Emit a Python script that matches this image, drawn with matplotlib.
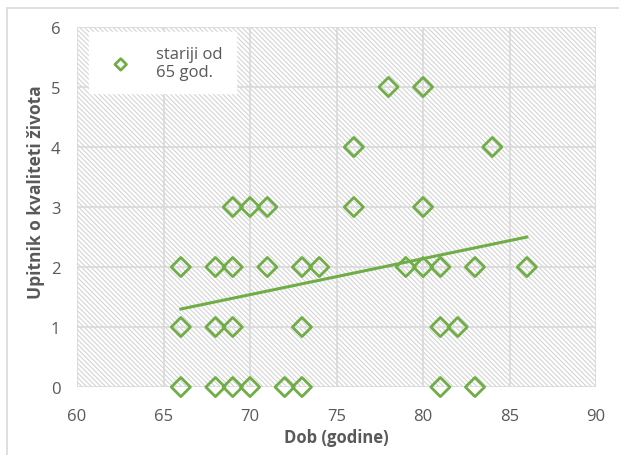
import matplotlib.pyplot as plt
from matplotlib.patches import Rectangle

# podaci procitani sa slike
dob = [66, 68, 69, 70, 72, 73, 81, 83,
       66, 68, 69, 73, 81, 82,
       66, 68, 69, 71, 73, 74, 79, 80, 81, 83, 86,
       69, 70, 71, 76, 80,
       76, 84,
       78, 80]
upitnik = [0, 0, 0, 0, 0, 0, 0, 0,
           1, 1, 1, 1, 1, 1,
           2, 2, 2, 2, 2, 2, 2, 2, 2, 2, 2,
           3, 3, 3, 3, 3,
           4, 4,
           5, 5]
# linearni trend (Excel), krajnje tocke procitane sa slike
trend_x = [66, 86]
trend_y = [1.3, 2.5]
serija = 'stariji od\n65 god.'
x_ticks = [60, 65, 70, 75, 80, 85, 90]
y_ticks = [0, 1, 2, 3, 4, 5, 6]

green = '#70AD47'
grey_txt = '#595959'
grid_c = '#D9D9D9'

plt.rcParams['font.family'] = ['Open Sans', 'DejaVu Sans']
plt.rcParams['hatch.linewidth'] = 0.8

fig = plt.figure(figsize=(6.19, 4.56), dpi=100)
ax = fig.add_axes([0.1244, 0.149, 0.8386, 0.7896])

# okvir grafa
fig.patches.append(Rectangle((0.011, -0.01), 1.1, 0.99, transform=fig.transFigure,
                             fill=False, edgecolor=grid_c, lw=1.2))

# srafirana pozadina
ax.add_patch(Rectangle((0, 0), 1, 1, transform=ax.transAxes, facecolor='white',
                       edgecolor='#D4D4D4', hatch='\\' * 7, lw=0, zorder=0))

ax.scatter(dob, upitnik, marker='D', s=95, facecolors='none', edgecolors=green,
           linewidths=2, zorder=3, label=serija, clip_on=False)
ax.plot(trend_x, trend_y, color=green, lw=2.2, zorder=2)

ax.set_xlim(60, 90)
ax.set_ylim(0, 6)
ax.set_xticks(x_ticks)
ax.set_yticks(y_ticks)
ax.grid(True, color=grid_c, lw=1.2, zorder=1)
ax.set_axisbelow(True)
for s in ax.spines.values():
    s.set_visible(False)
ax.tick_params(length=0, labelsize=12, colors=grey_txt)
ax.tick_params(axis='x', pad=15)
ax.tick_params(axis='y', pad=12)

ax.set_xlabel('Dob (godine)', fontsize=12, fontweight='bold', color=grey_txt, labelpad=3)
ax.set_ylabel('Upitnik o kvaliteti života', fontsize=12.5, fontweight='bold', color=grey_txt)
ax.yaxis.set_label_coords(-0.062, 0.545)

leg = ax.legend(loc='upper left', bbox_to_anchor=(0.02, 0.99), fontsize=12,
                frameon=True, fancybox=False, framealpha=1, edgecolor='white',
                handletextpad=1.0, borderpad=0.8, borderaxespad=0.1,
                handlelength=2.2, markerscale=0.6)
for t in leg.get_texts():
    t.set_color(grey_txt)

fig.savefig('out.png', dpi=100)
